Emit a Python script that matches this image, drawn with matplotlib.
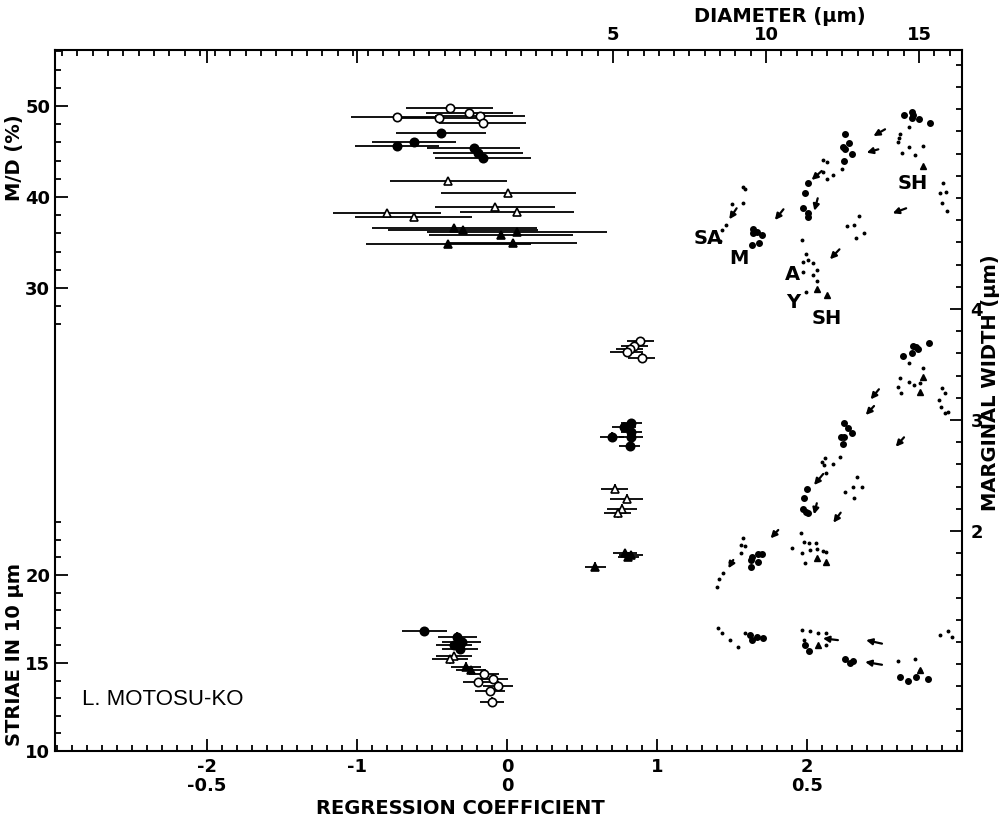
import numpy as np
import matplotlib.pyplot as plt
from matplotlib.ticker import MultipleLocator, FixedLocator, NullFormatter, NullLocator

plt.rcParams['font.family'] = ['Liberation Sans Narrow', 'DejaVu Sans']
plt.rcParams['font.weight'] = 'bold'

# ---------------- data ----------------
# M/D (%) against regression coefficient (value, M/D, half error)
mdL_oc_x = [-0.38, -0.73, -0.45, -0.25, -0.18, -0.16]
mdL_oc_y = [49.75, 48.76, 48.65, 49.26, 48.90, 48.16]
mdL_oc_e = [0.29, 0.31, 0.30, 0.29, 0.30, 0.29]
mdL_fc_x = [-0.44, -0.73, -0.62, -0.22, -0.19, -0.16]
mdL_fc_y = [47.07, 45.60, 46.01, 45.35, 44.87, 44.25]
mdL_fc_e = [0.30, 0.28, 0.28, 0.31, 0.30, 0.32]
mdL_ot_x = [-0.39, 0.01, -0.08, 0.07, -0.80, -0.62]
mdL_ot_y = [41.76, 40.41, 38.87, 38.38, 38.21, 37.84]
mdL_ot_e = [0.39, 0.45, 0.40, 0.38, 0.36, 0.39]
mdL_ft_x = [-0.35, -0.29, -0.04, 0.07, -0.39, 0.04]
mdL_ft_y = [36.63, 36.37, 35.82, 36.19, 34.80, 34.91]
mdL_ft_e = [0.55, 0.50, 0.48, 0.60, 0.55, 0.43]

# marginal width (um) against regression coefficient
mwL_oc_x = [0.89, 0.85, 0.82, 0.80, 0.90]
mwL_oc_y = [3.71, 3.67, 3.64, 3.61, 3.56]
mwL_oc_e = [0.09, 0.09, 0.09, 0.11, 0.09]
mwL_fc_x = [0.83, 0.78, 0.70, 0.83, 0.83, 0.82]
mwL_fc_y = [2.97, 2.94, 2.85, 2.89, 2.85, 2.77]
mwL_fc_e = [0.07, 0.08, 0.08, 0.07, 0.08, 0.07]
mwL_ot_x = [0.72, 0.80, 0.77, 0.74]
mwL_ot_y = [2.38, 2.29, 2.20, 2.16]
mwL_ot_e = [0.09, 0.11, 0.10, 0.09]
mwL_ft_x = [0.79, 0.83, 0.81, 0.59]
mwL_ft_y = [1.80, 1.78, 1.77, 1.68]
mwL_ft_e = [0.08, 0.08, 0.07, 0.07]

# striae in 10 um against regression coefficient
stL_fc_x = [-0.55, -0.33, -0.30, -0.35, -0.31]
stL_fc_y = [16.8, 16.5, 16.2, 16.0, 15.8]
stL_fc_e = [0.15, 0.13, 0.13, 0.12, 0.12]
stL_ot_x = [-0.35, -0.38]
stL_ot_y = [15.4, 15.2]
stL_ot_e = [0.12, 0.12]
stL_ft_x = [-0.27, -0.24]
stL_ft_y = [14.8, 14.6]
stL_ft_e = [0.10, 0.10]
stL_oc_x = [-0.15, -0.09, -0.19, -0.06, -0.11, -0.10]
stL_oc_y = [14.4, 14.1, 13.9, 13.7, 13.4, 12.8]
stL_oc_e = [0.10, 0.10, 0.10, 0.10, 0.10, 0.08]

# M/D against diameter (um)
mdR_big_d = [14.52, 14.78, 14.81, 14.78, 15.00, 15.36, 12.58, 12.71, 12.53, 12.58, 12.82, 12.56,
             11.38, 11.27, 11.20, 11.36, 11.38, 9.58, 9.70, 9.86, 9.58, 9.53, 9.78]
mdR_big_v = [49.01, 49.37, 49.01, 48.65, 48.57, 48.10, 46.89, 45.90, 45.46, 45.24, 44.69, 43.99,
             41.57, 40.41, 38.76, 38.21, 37.84, 36.45, 36.19, 35.82, 36.01, 34.73, 34.91]
mdR_sm_d = [9.24, 9.31, 9.24, 8.88, 8.69, 8.55, 8.50, 11.87, 11.98, 11.87, 12.20, 11.98, 12.47,
            14.38, 14.36, 14.32, 14.68, 14.43, 14.68, 14.87, 15.14, 15.77, 15.88, 15.69, 15.74, 15.92,
            11.17, 11.31, 11.38, 11.22, 11.55, 11.20, 11.68, 11.55, 11.68, 11.31,
            13.05, 12.88, 12.66, 13.20, 12.94]
mdR_sm_v = [41.13, 40.85, 39.31, 39.20, 36.92, 36.37, 35.16, 44.07, 43.88, 42.78, 42.42, 41.95, 43.04,
            46.89, 46.45, 46.01, 47.73, 44.80, 45.53, 44.62, 45.60, 41.51, 40.58, 40.41, 39.31, 38.49,
            35.27, 33.70, 33.08, 32.89, 32.71, 31.79, 31.98, 31.43, 30.80, 29.59,
            37.91, 36.92, 36.85, 36.08, 35.53]
mdR_tri_d = [15.12, 11.68, 12.00]
mdR_tri_v = [43.41, 29.86, 29.23]
mdR_arr = [((13.89, 47.44), (13.51, 46.70)), ((13.67, 45.24), (13.29, 44.87)),
           ((11.82, 42.86), (11.49, 41.87)), ((11.69, 39.86), (11.58, 38.49)),
           ((10.57, 38.65), (10.29, 37.47)), ((9.04, 38.76), (8.80, 37.55)),
           ((14.58, 38.76), (14.14, 38.21)), ((12.40, 34.25), (12.09, 33.16))]

# marginal width against diameter
mwR_big_d = [14.49, 14.76, 14.81, 14.90, 14.98, 15.34, 12.55, 12.67, 12.80, 12.45, 12.56, 12.53,
             11.33, 11.25, 11.20, 11.31, 11.38, 9.53, 9.50, 9.75, 9.86, 9.75, 9.50]
mwR_big_v = [3.577, 3.601, 3.667, 3.660, 3.640, 3.696, 2.970, 2.931, 2.886, 2.850, 2.850, 2.784,
             2.378, 2.295, 2.195, 2.174, 2.165, 1.768, 1.739, 1.793, 1.793, 1.723, 1.678]
mwR_sm_d = [14.68, 14.38, 14.32, 14.41, 14.67, 14.83, 15.12, 15.03, 15.74, 15.85, 15.64, 15.71, 15.85, 15.96,
            11.82, 11.93, 11.90, 11.96, 12.18, 12.42, 12.98, 12.83, 13.13, 12.58, 12.88,
            9.26, 9.17, 9.31, 9.17, 8.82, 8.60, 8.47, 8.41,
            11.13, 11.24, 11.42, 11.63, 11.17, 11.44, 11.68, 11.27, 11.85, 11.96, 10.84]
mwR_sm_v = [3.516, 3.376, 3.300, 3.241, 3.345, 3.315, 3.466, 3.336, 3.286, 3.241, 3.180, 3.114, 3.066, 3.075,
            2.624, 2.655, 2.595, 2.520, 2.601, 2.669, 2.484, 2.399, 2.399, 2.349, 2.295,
            1.934, 1.874, 1.865, 1.799, 1.723, 1.619, 1.565, 1.498,
            1.985, 1.904, 1.889, 1.889, 1.805, 1.829, 1.835, 1.709, 1.823, 1.814, 1.844]
mwR_tri_d = [15.12, 15.03, 11.66, 11.96]
mwR_tri_v = [3.390, 3.255, 1.754, 1.723]
mwR_arr = [((13.69, 3.277), (13.42, 3.186)), ((13.53, 3.126), (13.26, 3.045)),
           ((11.87, 2.514), (11.57, 2.414)), ((14.51, 2.844), (14.24, 2.759)),
           ((11.66, 2.250), (11.57, 2.150)), ((12.44, 2.165), (12.20, 2.075)),
           ((10.40, 2.009), (10.15, 1.934)), ((8.93, 1.739), (8.77, 1.664))]

# striae against diameter
stR_big_d = [9.48, 9.54, 9.71, 9.90, 11.27, 11.41, 12.58, 12.75, 12.84, 14.38, 14.64, 14.90, 15.29]
stR_big_v = [16.6, 16.3, 16.5, 16.4, 16.0, 15.7, 15.2, 15.0, 15.1, 14.2, 14.0, 14.2, 14.1]
stR_sm_d = [8.43, 8.56, 8.82, 9.08, 9.31, 11.18, 11.44, 11.70, 11.96, 11.24, 11.96,
            14.30, 14.87, 15.03, 15.69, 15.95, 16.08]
stR_sm_v = [17.0, 16.7, 16.3, 15.9, 16.7, 16.9, 16.8, 16.7, 16.7, 16.3, 16.0,
            15.1, 15.2, 14.6, 16.6, 16.8, 16.5]
stR_tri_d = [11.70, 15.03]
stR_tri_v = [16.0, 14.6]
stR_arr = [((12.35, 16.3), (11.86, 16.4)), ((13.79, 14.9), (13.24, 15.06)),
           ((13.79, 16.1), (13.27, 16.3))]

# ---------------- layout ----------------
W, H = 1004, 826
L, R, T, B = 55, 962, 50, 751
RECT = [L / W, 1 - B / H, (R - L) / W, (B - T) / H]
RC_LIM = ((L - 507) / 150, (R - 507) / 150)
D_LIM = ((L - 460) / 30.6, (R - 460) / 30.6)
MD_LIM = (50 - (B - 106) / 9.1, 50 + (106 - T) / 9.1)
MW_LIM = (2 - (B - 531) / 111, 4 + (309 - T) / 111)
ST_LIM = (10, 10 + (B - T) / 17.6)

fig = plt.figure(figsize=(W / 100, H / 100), dpi=100)

ax = fig.add_axes(RECT)
ax.set_xlim(RC_LIM)
ax.set_ylim(MD_LIM)
for s in ax.spines.values():
    s.set_linewidth(1.5)


def layer(xlim, ylim):
    a = fig.add_axes(RECT, frameon=False)
    a.set_xlim(xlim)
    a.set_ylim(ylim)
    a.patch.set_visible(False)
    return a


ax_st = layer(RC_LIM, ST_LIM)
ax_mw = layer(RC_LIM, MW_LIM)
d_md = layer(D_LIM, MD_LIM)
d_mw = layer(D_LIM, MW_LIM)
d_st = layer(D_LIM, ST_LIM)

tick_kw = dict(which='both', direction='in', width=1.3, labelsize=13, colors='k')
# bottom: regression coefficient
ax.xaxis.set_major_locator(FixedLocator([-2, -1, 0, 1, 2]))
ax.set_xticklabels(['-2\n-0.5', '-1', '0\n0', '1', '2\n0.5'], linespacing=1.05)
ax.xaxis.set_minor_locator(MultipleLocator(0.1))
# left: M/D
ax.yaxis.set_major_locator(FixedLocator([30, 40, 50]))
ax.yaxis.set_minor_locator(FixedLocator(np.arange(26, 57, 2)))
ax.tick_params(**tick_kw, top=False, right=False)
ax.tick_params(which='major', length=9)
ax.tick_params(which='minor', length=4)
ax.tick_params(axis='x', pad=5)

# left: striae
ax_st.xaxis.set_visible(False)
ax_st.yaxis.set_major_locator(FixedLocator([10, 15, 20]))
ax_st.yaxis.set_minor_locator(FixedLocator([11, 12, 13, 14, 16, 17, 18, 19, 21, 22, 23]))
ax_st.tick_params(**tick_kw)
ax_st.tick_params(which='major', length=9)
ax_st.tick_params(which='minor', length=4)

# right: marginal width, plus the two long ticks of the upper frame
ax_mw.xaxis.tick_top()
ax_mw.xaxis.set_major_locator(FixedLocator([-2, -1]))
ax_mw.xaxis.set_major_formatter(NullFormatter())
ax_mw.xaxis.set_minor_locator(NullLocator())
ax_mw.yaxis.tick_right()
ax_mw.yaxis.set_major_locator(FixedLocator([2, 3, 4]))
ax_mw.yaxis.set_minor_locator(MultipleLocator(0.2))
ax_mw.tick_params(**tick_kw)
ax_mw.tick_params(which='major', length=9, pad=6)
ax_mw.tick_params(which='minor', length=4)

# top: diameter
d_md.yaxis.set_visible(False)
d_md.xaxis.tick_top()
d_md.xaxis.set_major_locator(FixedLocator([5, 10, 15]))
d_md.xaxis.set_minor_locator(MultipleLocator(0.5))
d_md.tick_params(**tick_kw)
d_md.tick_params(which='major', length=9, pad=4)
d_md.tick_params(which='minor', length=4)
d_mw.axis('off')
d_st.axis('off')


def eb(a, x, y, xe, ye, marker, face):
    a.errorbar(x, y, xerr=xe, yerr=ye, fmt=marker, mfc=face, mec='k', ecolor='k',
               elinewidth=1.3, capsize=0, ms=6, mew=1.2, zorder=3)


eb(ax, mdL_oc_x, mdL_oc_y, mdL_oc_e, 0.45, 'o', 'white')
eb(ax, mdL_fc_x, mdL_fc_y, mdL_fc_e, 0.45, 'o', 'k')
eb(ax, mdL_ot_x, mdL_ot_y, mdL_ot_e, 0.45, '^', 'white')
eb(ax, mdL_ft_x, mdL_ft_y, mdL_ft_e, 0.45, '^', 'k')
eb(ax_mw, mwL_oc_x, mwL_oc_y, mwL_oc_e, 0.04, 'o', 'white')
eb(ax_mw, mwL_fc_x, mwL_fc_y, mwL_fc_e, 0.04, 'o', 'k')
eb(ax_mw, mwL_ot_x, mwL_ot_y, mwL_ot_e, 0.04, '^', 'white')
eb(ax_mw, mwL_ft_x, mwL_ft_y, mwL_ft_e, 0.04, '^', 'k')
eb(ax_st, stL_fc_x, stL_fc_y, stL_fc_e, 0.25, 'o', 'k')
eb(ax_st, stL_ot_x, stL_ot_y, stL_ot_e, 0.25, '^', 'white')
eb(ax_st, stL_ft_x, stL_ft_y, stL_ft_e, 0.25, '^', 'k')
eb(ax_st, stL_oc_x, stL_oc_y, stL_oc_e, 0.25, 'o', 'white')

for a, bd, bv, sd, sv, td, tv, arrows in [
        (d_md, mdR_big_d, mdR_big_v, mdR_sm_d, mdR_sm_v, mdR_tri_d, mdR_tri_v, mdR_arr),
        (d_mw, mwR_big_d, mwR_big_v, mwR_sm_d, mwR_sm_v, mwR_tri_d, mwR_tri_v, mwR_arr),
        (d_st, stR_big_d, stR_big_v, stR_sm_d, stR_sm_v, stR_tri_d, stR_tri_v, stR_arr)]:
    a.plot(bd, bv, 'o', color='k', ms=4, ls='none')
    a.plot(sd, sv, 'o', color='k', ms=1.8, ls='none')
    a.plot(td, tv, '^', color='k', ms=5, ls='none')
    for tail, head in arrows:
        a.annotate('', xy=head, xytext=tail,
                   arrowprops=dict(arrowstyle='-|>', color='k', lw=1.6,
                                   mutation_scale=9, shrinkA=0, shrinkB=0))

# labels of the stations
for txt, d, v in [('SA', 8.1, 35.4), ('M', 9.1, 33.2), ('A', 10.85, 31.5),
                  ('Y', 10.9, 28.4), ('SH', 12.0, 26.6), ('SH', 14.8, 41.5)]:
    d_md.text(d, v, txt, fontsize=14, ha='center', va='center')

ax.text(0.03, 0.073, 'L. MOTOSU-KO', transform=ax.transAxes, fontsize=16, va='center',
        fontweight='normal', family=['Liberation Sans', 'DejaVu Sans'])

fig.text(15 / W, 1 - 158 / H, 'M/D (%)', rotation=90, ha='center', va='center', fontsize=14)
fig.text(15 / W, 1 - 655 / H, 'STRIAE IN 10 µm', rotation=90, ha='center', va='center', fontsize=14)
fig.text(991 / W, 1 - 383 / H, 'MARGINAL WIDTH (µm)', rotation=90, ha='center', va='center', fontsize=14)
fig.text(780 / W, 1 - 16 / H, 'DIAMETER (µm)', ha='center', va='center', fontsize=14)
fig.text(460 / W, 1 - 808 / H, 'REGRESSION COEFFICIENT', ha='center', va='center', fontsize=14)

fig.savefig('out.png', dpi=100)
